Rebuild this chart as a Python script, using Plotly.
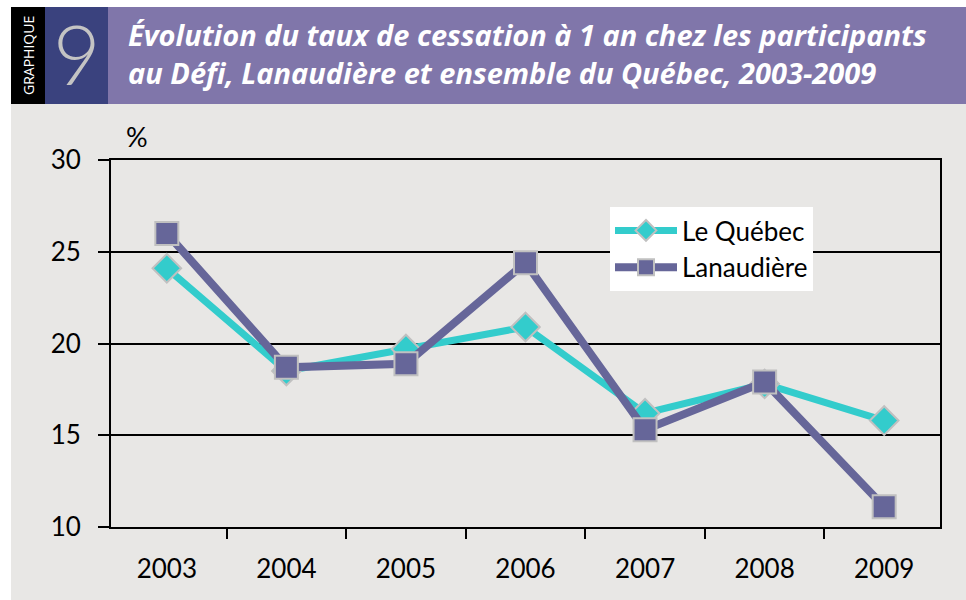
import plotly.graph_objects as go

years = ["2003", "2004", "2005", "2006", "2007", "2008", "2009"]
quebec = [24.1, 18.5, 19.7, 20.9, 16.2, 17.8, 15.8]
lanaudiere = [26.0, 18.7, 18.9, 24.4, 15.3, 17.9, 11.1]
y_ticks = [10, 15, 20, 25, 30]
title_lines = ["Évolution du taux de cessation à 1 an chez les participants",
               "au Défi, Lanaudière et ensemble du Québec, 2003-2009"]

W, H = 966, 600
def px(x):
    return x / W
def py(y):
    return 1 - y / H

BG = "#e8e7e5"
TEAL = "#33cccc"
PURP = "#666699"
FONT = "Lato, 'Open Sans', sans-serif"

fig = go.Figure()
fig.add_trace(go.Scatter(
    x=years, y=quebec, name="Le Québec", mode="lines+markers", legendgroup="q",
    line=dict(color=TEAL, width=7),
    marker=dict(symbol="diamond", size=22, color=TEAL, line=dict(color="#c0c0c0", width=2)),
))
fig.add_trace(go.Scatter(
    x=years, y=lanaudiere, name="Lanaudière", mode="lines+markers", legendgroup="l",
    line=dict(color=PURP, width=8),
    marker=dict(symbol="square", size=23, color=PURP, line=dict(color="#c0c0c0", width=2)),
))

shapes = [
    dict(type="rect", xref="paper", yref="paper", x0=px(11), x1=1.0, y0=0, y1=py(104),
         fillcolor=BG, line=dict(width=0), layer="below"),
    dict(type="rect", xref="paper", yref="paper", x0=px(108), x1=1.0, y0=py(104), y1=py(7),
         fillcolor="#8076aa", line=dict(width=0), layer="below"),
    dict(type="rect", xref="paper", yref="paper", x0=px(45), x1=px(108), y0=py(104), y1=py(7),
         fillcolor="#3a427e", line=dict(width=0), layer="below"),
    dict(type="rect", xref="paper", yref="paper", x0=px(11), x1=px(45), y0=py(104), y1=py(7),
         fillcolor="#000000", line=dict(width=0), layer="below"),
]

annotations = [
    dict(text="GRAPHIQUE", x=px(28), y=py(56), xref="paper", yref="paper", showarrow=False,
         xanchor="center", yanchor="middle", textangle=-90,
         font=dict(family="'Open Sans', sans-serif", size=14, color="white")),
    dict(text="9", x=px(77), y=py(53), xref="paper", yref="paper", showarrow=False,
         xanchor="center", yanchor="middle",
         font=dict(family="Lato, 'Open Sans', sans-serif", size=82, color="#c4c4c4", weight=300)),
    dict(text="<b><i>" + "<br>".join(title_lines) + "</i></b>",
         x=px(126), y=py(54), xref="paper", yref="paper", showarrow=False, xanchor="left", yanchor="middle",
         align="left", font=dict(family="'Open Sans', sans-serif", size=29, color="white")),
    dict(text="%", x=px(137), y=py(136), xref="paper", yref="paper", showarrow=False,
         xanchor="center", yanchor="middle",
         font=dict(family=FONT, size=27, color="black")),
]

fig.update_layout(
    width=W, height=H,
    margin=dict(l=0, r=0, t=0, b=0, autoexpand=False),
    paper_bgcolor="white", plot_bgcolor=BG,
    shapes=shapes, annotations=annotations,
    showlegend=True,
    legend=dict(x=px(610), y=py(207), xanchor="left", yanchor="top",
                bgcolor="white", font=dict(family=FONT, size=26, color="black"),
                itemwidth=62, tracegroupgap=6, traceorder="normal"),
    xaxis=dict(domain=[px(111), px(940)], type="category", automargin=False,
               showline=True, linecolor="black", linewidth=2, mirror=True,
               ticks="outside", tickson="boundaries", ticklen=10, tickwidth=2, tickcolor="black",
               showgrid=False, ticklabelstandoff=18,
               tickfont=dict(family=FONT, size=26, color="black")),
    yaxis=dict(domain=[py(527), py(160)], range=[10, 30], tickvals=y_ticks, automargin=False,
               showline=True, linecolor="black", linewidth=2, mirror=True,
               ticks="outside", ticklen=11, tickwidth=2, tickcolor="black",
               showgrid=True, gridcolor="black", gridwidth=2, zeroline=False,
               ticklabelstandoff=12,
               tickfont=dict(family=FONT, size=26, color="black")),
)

fig.write_html("out.html", config={"displayModeBar": False},
               post_script="document.body.style.margin='0';")
